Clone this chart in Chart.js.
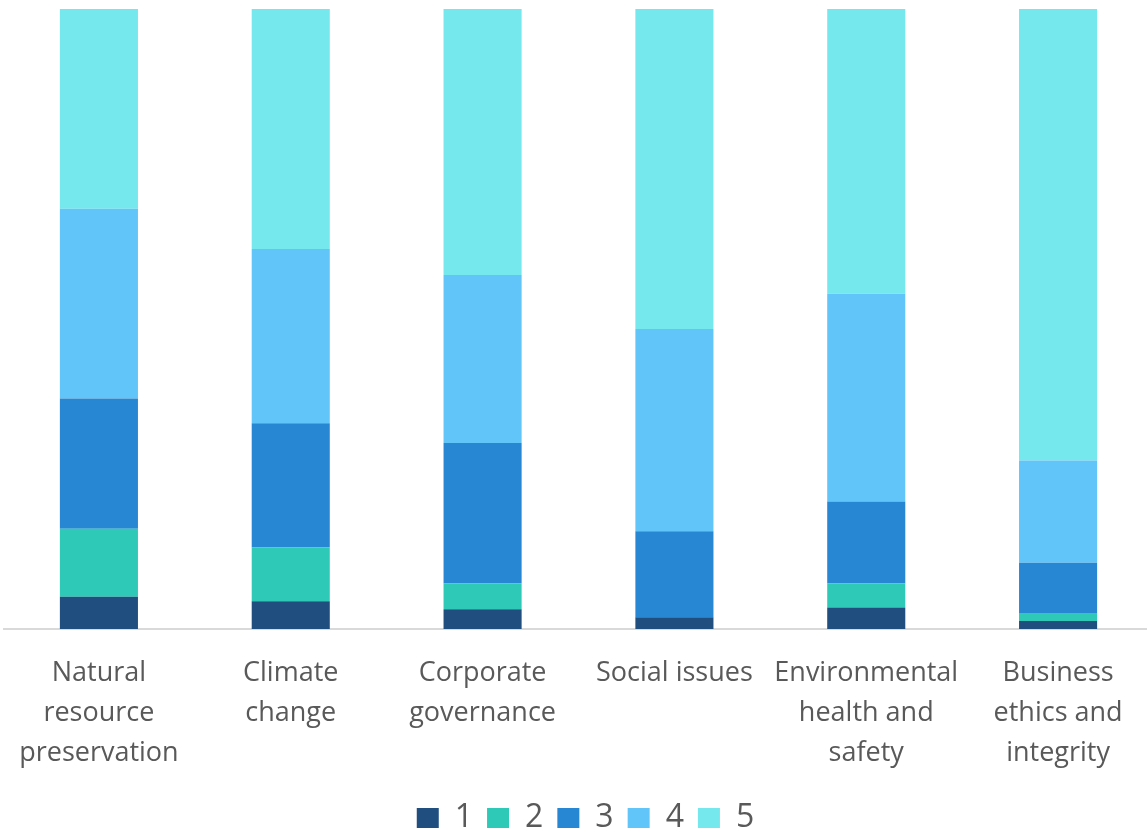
<!DOCTYPE html>
<html>
<head>
<meta charset="utf-8">
<script src="https://cdn.jsdelivr.net/npm/chart.js@4/dist/chart.umd.min.js"></script>
<style>
  html, body { margin: 0; padding: 0; background: #fff; overflow: hidden; }
  #wrap { position: absolute; left: 3px; top: 0; width: 1151px; height: 831px; }
</style>
</head>
<body>
<div id="wrap"><canvas id="chart"></canvas></div>
<script>
// topics on the x axis, one label line per array entry
const topics = [
    ['Natural', 'resource', 'preservation'],
    ['Climate', 'change'],
    ['Corporate', 'governance'],
    ['Social issues'],
    ['Environmental', 'health and', 'safety'],
    ['Business', 'ethics and', 'integrity']
];

// share of answers (%) for each rating
const rating1 = [5.2, 4.5, 3.2, 1.9, 3.5, 1.3];
const rating2 = [11.0, 8.7, 4.2, 0, 3.9, 1.3];
const rating3 = [21.0, 20.0, 22.6, 13.9, 13.2, 8.1];
const rating4 = [30.6, 28.1, 27.1, 32.6, 33.5, 16.5];
const rating5 = [32.2, 38.7, 42.9, 51.6, 45.9, 72.8];

const ratingNames = ['1', '2', '3', '4', '5'];
const colors = ['#1f4e7f', '#2ecab7', '#2887d3', '#61c5fa', '#74e8ec'];

const series = [rating1, rating2, rating3, rating4, rating5];

// nudge the legend a little to the right of the centre
const legendShift = {
    id: 'legendShift',
    afterLayout(chart) {
        chart.legend.left += 7;
        chart.legend.right += 7;
    }
};

const ctx = document.getElementById('chart').getContext('2d');
new Chart(ctx, {
    type: 'bar',
    data: {
        labels: topics,
        datasets: series.map((values, i) => ({
            label: ratingNames[i],
            data: values,
            backgroundColor: colors[i],
            borderWidth: 0,
            categoryPercentage: 1,
            barPercentage: 0.407
        }))
    },
    plugins: [legendShift],
    options: {
        responsive: true,
        maintainAspectRatio: false,
        animation: false,
        layout: { padding: { top: 9, bottom: -13, left: 0, right: 0 } },
        plugins: {
            tooltip: { enabled: false },
            legend: {
                position: 'bottom',
                labels: {
                    boxWidth: 22,
                    boxHeight: 20,
                    padding: 14,
                    color: '#595959',
                    font: { family: 'Open Sans', size: 32 }
                }
            }
        },
        scales: {
            x: {
                stacked: true,
                grid: { display: false, drawTicks: true, tickLength: 9 },
                border: { display: true, color: '#d9d9d9', width: 2 },
                ticks: {
                    color: '#595959',
                    font: { family: 'Open Sans', size: 27, lineHeight: 1.48 },
                    padding: 15,
                    maxRotation: 0,
                    autoSkip: false
                }
            },
            y: {
                stacked: true,
                display: false,
                min: 0,
                max: 100
            }
        }
    }
});
</script>
</body>
</html>
